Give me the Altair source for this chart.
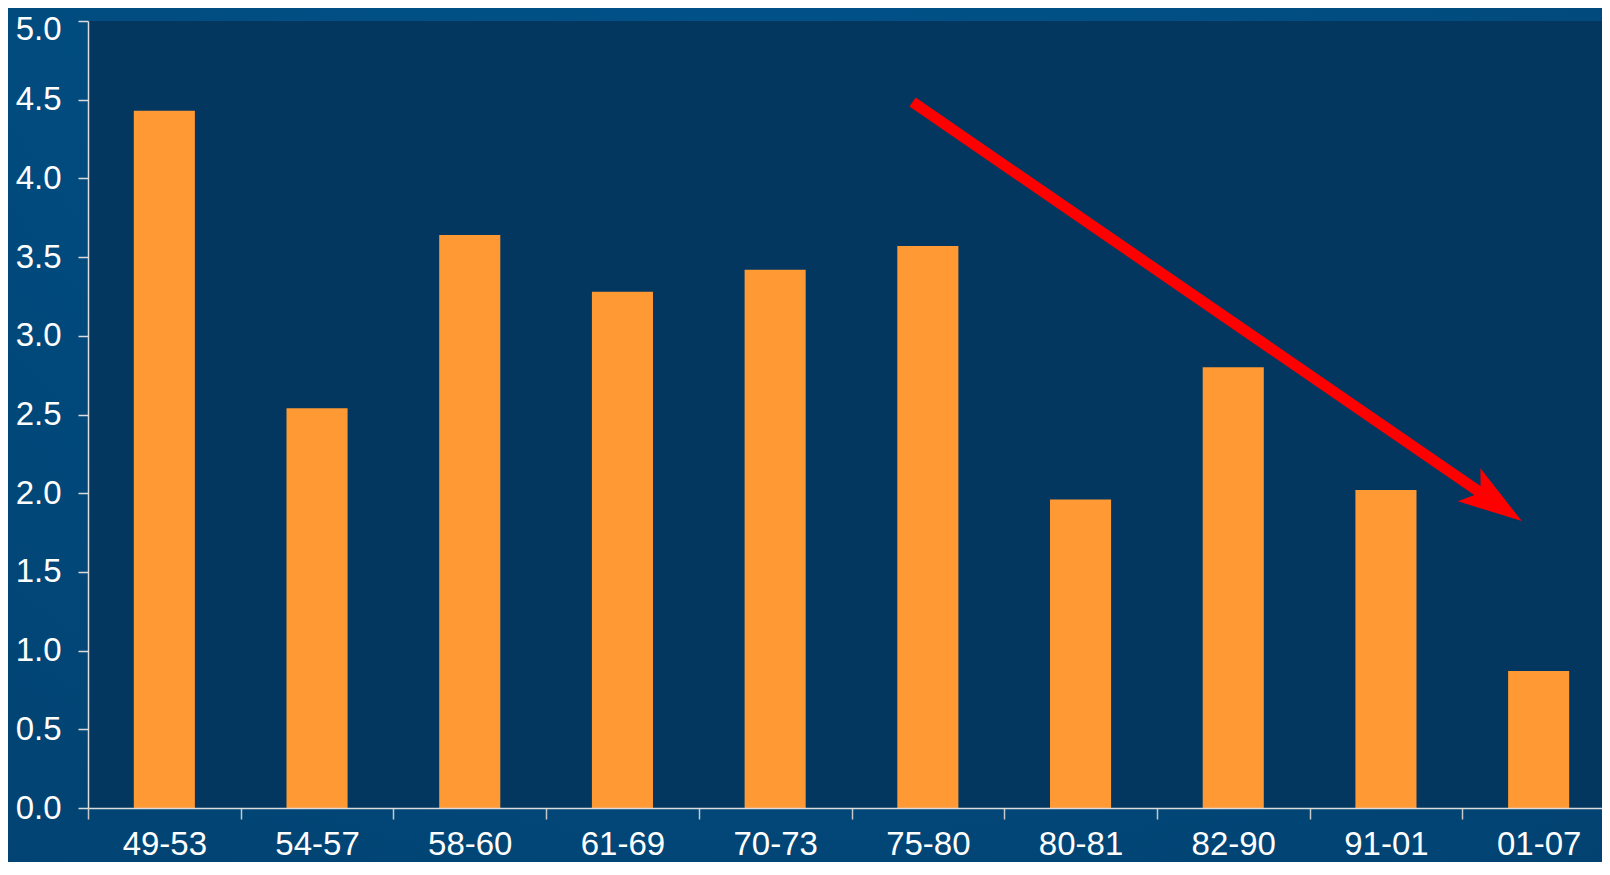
import math
import altair as alt
import pandas as pd

# ---- data ----
periods = ["49-53", "54-57", "58-60", "61-69", "70-73", "75-80", "80-81", "82-90", "91-01", "01-07"]
values = [4.43, 2.54, 3.64, 3.28, 3.42, 3.57, 1.96, 2.80, 2.02, 0.87]

# trend arrow, in data units (x in band steps from left edge, y in value units)
arrow_x_start = [5.40]
arrow_y_start = [4.485]
arrow_x_end = [9.12]
arrow_y_end = [2.003]

y_ticks = [0, 0.5, 1, 1.5, 2, 2.5, 3, 3.5, 4, 4.5, 5]

# ---- layout ----
W, H = 1514, 787          # visible plot area (page is clipped on the right)
XR = 1527                 # full band range; last band runs past the page edge
PL, PT, PR, PB = 80, 13, 0, 54
FONT = "Liberation Sans"

bars_df = pd.DataFrame({"period": periods, "value": values})
arrow_df = pd.DataFrame({"x": arrow_x_start, "y": arrow_y_start,
                         "x2": arrow_x_end, "y2": arrow_y_end})
one = pd.DataFrame({"a": [0]})

step = XR / len(periods)
ppu = H / 5.0
dx = (arrow_x_end[0] - arrow_x_start[0]) * step
dy = (arrow_y_start[0] - arrow_y_end[0]) * ppu
angle = math.degrees(math.atan2(dy, dx))

bg = alt.Chart(one).mark_rect(
    fill=alt.RadialGradient(
        gradient="radial",
        stops=[alt.GradientStop(offset=0, color="#00568f"),
               alt.GradientStop(offset=1, color="#023f6c")],
        x1=0.47, y1=0, r1=0, x2=0.47, y2=0, r2=1.1,
    )
).encode(
    x=alt.value(-PL), x2=alt.value(W + PR),
    y=alt.value(-PT), y2=alt.value(H + PB),
)

plotbg = alt.Chart(one).mark_rect(fill="#033760").encode(
    x=alt.value(0), x2=alt.value(W), y=alt.value(0), y2=alt.value(H)
)

yscale = alt.Scale(domain=[0, 5], nice=False)
y_axis = alt.Axis(values=y_ticks, format=".1f", labelFontSize=33,
                  labelFont=FONT, labelColor="white", labelPadding=17,
                  labelOffset={"condition": {"test": "datum.value >= 5", "value": 8},
                               "value": 0},
                  domainColor="#dcdcdc", domainWidth=1.5,
                  tickColor="#dcdcdc", tickWidth=1.5, tickSize=10,
                  grid=False, zindex=1)

bars = alt.Chart(bars_df).mark_bar(
    color="#ff9933", width=alt.RelativeBandSize(0.4)
).encode(
    x=alt.X("period:N", sort=periods, title=None,
            scale=alt.Scale(paddingInner=0, paddingOuter=0, range=[0, XR]),
            axis=alt.Axis(labelAngle=0, tickBand="extent", labelFontSize=33,
                          labelFont=FONT, labelColor="white", labelPadding=9,
                          domainColor="#dcdcdc", domainWidth=1.5,
                          tickColor="#c8c8c8", tickWidth=1.5, tickSize=11,
                          zindex=1)),
    y=alt.Y("value:Q", scale=yscale, title=None, axis=y_axis),
)

xq = alt.Scale(domain=[0, len(periods)], nice=False, zero=False, range=[0, XR])

arrow_line = alt.Chart(arrow_df).mark_rule(
    color="#ff0000", strokeWidth=11, strokeCap="butt"
).encode(
    x=alt.X("x:Q", scale=xq, axis=None),
    x2="x2:Q",
    y=alt.Y("y:Q", scale=yscale, title=None, axis=y_axis),
    y2="y2:Q",
)

head_path = "M1.5625,0 L-0.4375,-0.625 L0,0 L-0.4375,0.625 Z"
arrow_head = alt.Chart(arrow_df).mark_point(
    shape=head_path, size=4096, angle=angle, filled=True,
    color="#ff0000", opacity=1, strokeWidth=0
).encode(
    x=alt.X("x2:Q", scale=xq, axis=None),
    y=alt.Y("y2:Q", scale=yscale, title=None, axis=y_axis),
)

chart = alt.layer(bg, plotbg, bars, arrow_line, arrow_head).resolve_scale(
    x="independent"
).properties(
    width=W, height=H,
    autosize=alt.AutoSizeParams(type="none"),
    padding={"left": PL, "top": PT, "right": PR, "bottom": PB},
    background="#01477c",
).configure_view(stroke=None)

chart.save("out.html", embed_options={"renderer": "svg", "actions": False})
